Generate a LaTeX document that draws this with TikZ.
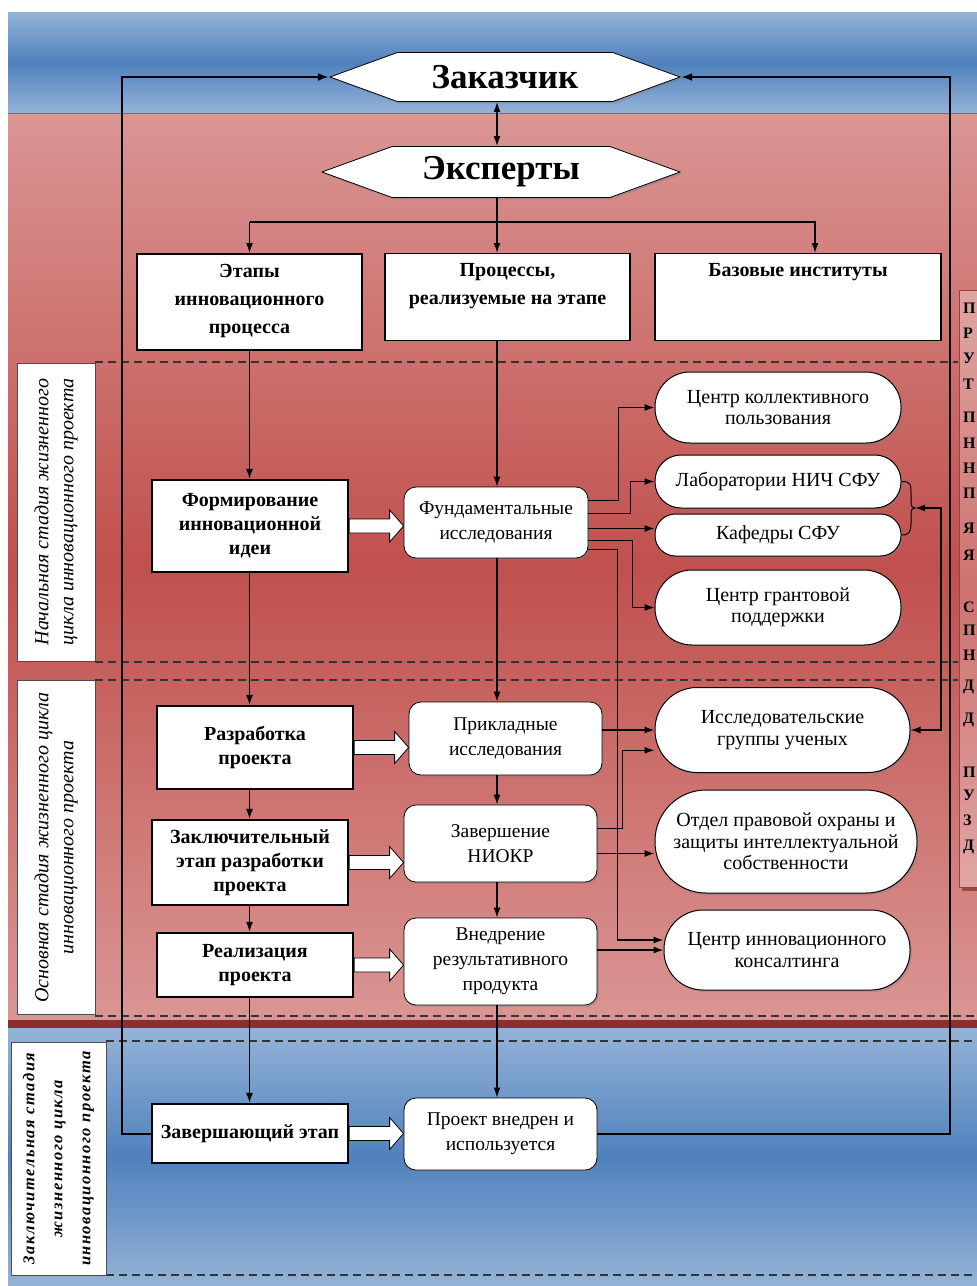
\documentclass[tikz,border=0pt]{standalone}
\usepackage{fontspec}
\setmainfont{Liberation Serif}
\usetikzlibrary{calc,positioning,arrows,arrows.meta,shapes,shadows}
\definecolor{bandblue}{HTML}{4F81BD}
\definecolor{paleblue}{HTML}{95B3D7}
\definecolor{bandred}{HTML}{C0504D}
\definecolor{palered}{HTML}{DA9694}
\definecolor{darkred}{HTML}{8C2F2C}

\begin{document}
\begin{tikzpicture}[x=1pt,y=-1pt]
\tikzstyle{hexbox}=[signal, signal to=east and west, signal pointer angle=40, draw, fill=white, line width=0.8pt, inner sep=0pt, font=\fontsize{35}{35}\selectfont\bfseries, drop shadow={shadow xshift=2pt,shadow yshift=-2pt,opacity=0.4}]
\tikzstyle{headbox}=[draw, fill=white, line width=1.2pt, anchor=north, inner xsep=0pt, inner ysep=10pt, font=\fontsize{20}{28}\selectfont\bfseries]
\tikzstyle{stagebox}=[draw, fill=white, line width=2.2pt, align=center, minimum width=196, inner sep=0pt, font=\fontsize{20}{24}\selectfont\bfseries]
\tikzstyle{procbox}=[draw, fill=white, line width=0.8pt, rounded corners=12pt, align=center, minimum width=193, inner sep=0pt, font=\fontsize{19.5}{25}\selectfont, drop shadow={shadow xshift=2pt,shadow yshift=-2pt,opacity=0.35}]
\tikzstyle{instbox}=[draw, fill=white, line width=1pt, align=center, inner sep=0pt, font=\fontsize{20}{21.5}\selectfont, drop shadow={shadow xshift=2pt,shadow yshift=-2pt,opacity=0.35}]
\tikzstyle{sidebox}=[draw=black!70, fill=white, line width=0.8pt, rotate=90, align=center, inner sep=0pt, font=\fontsize{20}{25}\selectfont\itshape]
\tikzstyle{flow}=[line width=1.4pt, -{Latex[length=10pt,width=7pt]}]
\tikzstyle{loopline}=[line width=2pt, -{Latex[length=11pt,width=8pt]}]
\tikzstyle{sepline}=[line width=1.2pt, dash pattern=on 8pt off 5pt, black!80]
\tikzstyle{hollow}=[draw, fill=white, line width=0.8pt]
\useasboundingbox (0,0) rectangle (977,1286);

% background bands
\shade[top color=paleblue, bottom color=paleblue, middle color=bandblue] (8,12) rectangle (977,113);
\shade[top color=palered, bottom color=palered, middle color=bandred] (8,113) rectangle (977,1020);
\draw[bandred, line width=1pt] (8,113) -- (977,113);
\fill[darkred] (8,1020) rectangle (977,1028);
\shade[top color=paleblue, bottom color=paleblue, middle color=bandblue] (8,1028) rectangle (977,1286);

% cut box on the right edge
\begin{scope}
\clip (950,280) rectangle (977,900);
\fill[darkred, opacity=0.7] (962,294) rectangle (990,891);
\shade[top color=palered!85!white, bottom color=palered!85!white, middle color=bandred!80!white] (959,290) rectangle (990,887);
\draw[bandred!80!black, line width=0.8pt] (959,290) rectangle (990,887);
\end{scope}
\foreach \y/\c in {308/П,333/Р,358/У,384/Т,417/П,443/Н,468/Н,493/П,528/Я,555/Я,607/С,630/П,655/Н,687/Д,720/Д,772/П,795/У,820/З,847/Д}{
  \node[anchor=west, inner sep=0pt, font=\fontsize{16}{16}\selectfont\bfseries] (frag\y) at (963,\y) {\c};}

% stage separators
\draw[sepline] (95,362) -- (958,362);
\draw[sepline] (95,662) -- (958,662);
\draw[sepline] (95,680) -- (958,680);
\draw[sepline] (95,1016) -- (977,1016);
\draw[sepline] (106,1041) -- (977,1041);
\draw[sepline] (106,1275) -- (977,1275);

% stage labels
\node[sidebox, minimum width=298, minimum height=78] (side1) at (56,512) {Начальная стадия жизненного\\цикла инновационного проекта};
\node[sidebox, minimum width=334, minimum height=78] (side2) at (56,847.5) {Основная стадия жизненного цикла\\инновационного проекта};
\node[sidebox, minimum width=233, minimum height=95, font=\fontsize{16.5}{28}\selectfont\bfseries\itshape\addfontfeature{LetterSpace=9}] (side3) at (58.5,1158.5) {Заключительная стадия\\жизненного цикла\\инновационного проекта};

% top
\node[hexbox, minimum width=350, minimum height=49] (zak) at (505,77) {Заказчик};
\node[hexbox, minimum width=358, minimum height=51] (eks) at (501,172) {Эксперты};
\node[headbox, line width=2.2pt] (etapy) at (249.5,253) {\parbox[t][76pt][t]{225pt}{\centering Этапы\\инновационного\\процесса}};
\node[headbox] (proc) at (507.5,253) {\parbox[t][67pt][t]{245pt}{\centering Процессы,\\реализуемые на этапе}};
\node[headbox] (baz) at (798,253) {\parbox[t][67pt][t]{286pt}{\centering Базовые институты}};

% stages
\node[stagebox, minimum height=92] (form) at (250,526) {Формирование\\инновационной\\идеи};
\node[stagebox, minimum height=83] (razr) at (255,747.5) {Разработка\\проекта};
\node[stagebox, minimum height=85] (zakl) at (250,862.5) {Заключительный\\этап разработки\\проекта};
\node[stagebox, minimum height=64] (real) at (255,965) {Реализация\\проекта};
\node[stagebox, minimum height=59] (zave) at (250,1133.5) {Завершающий этап};

% processes
\node[procbox, minimum width=184, minimum height=71] (fund) at (496,522.5) {Фундаментальные\\исследования};
\node[procbox, minimum height=73] (prikl) at (505.5,738.5) {Прикладные\\исследования};
\node[procbox, minimum height=77] (zavn) at (500.5,843.5) {Завершение\\НИОКР};
\node[procbox, minimum height=87] (vned) at (500.5,961.5) {Внедрение\\результативного\\продукта};
\node[procbox, minimum height=72] (proj) at (500.5,1134) {Проект внедрен и\\используется};

% institutes
\node[instbox, rounded corners=35pt, minimum width=246, minimum height=71] (kol) at (778,407.5) {Центр коллективного\\пользования};
\node[instbox, rounded corners=26pt, minimum width=246, minimum height=53] (lab) at (778,481.5) {Лаборатории НИЧ СФУ};
\node[instbox, rounded corners=20.5pt, minimum width=246, minimum height=42] (kaf) at (778,535) {Кафедры СФУ};
\node[instbox, rounded corners=37pt, minimum width=246, minimum height=75] (gran) at (778,607.5) {Центр грантовой\\поддержки};
\node[instbox, rounded corners=42pt, minimum width=255, minimum height=85] (issl) at (782.5,730) {Исследовательские\\группы ученых};
\node[instbox, rounded corners=51pt, minimum width=262, minimum height=103] (otd) at (786,841.5) {Отдел правовой охраны и\\защиты интеллектуальной\\собственности};
\node[instbox, rounded corners=39pt, minimum width=246, minimum height=80] (kons) at (787,950) {Центр инновационного\\консалтинга};

\coordinate (mid) at (497,222);
\coordinate (loopL) at (122,77);
\coordinate (loopR) at (950,77);
\coordinate (brace) at (915,508);

% customer and experts
\draw[line width=1.4pt, {Latex[length=10pt,width=7pt]}-{Latex[length=10pt,width=7pt]}] (mid |- zak.south) -- (mid |- eks.north);
\draw[line width=2.6pt] (mid) -- (mid -| etapy.north);
\draw[flow] (mid |- eks.south) -- (mid) -- (mid |- proc.north);
\draw[flow] (mid -| etapy.north) -- (etapy.north);
\draw[flow] (mid) -| ([xshift=17pt]baz.north);

% down the columns
\foreach \i/\j in {etapy/form,form/razr,razr/zakl,zakl/real,real/zave}{\draw[flow] (\i.south -| etapy.south) -- (\j.north -| etapy.south);}
\foreach \i/\j in {proc/fund,fund/prikl,prikl/zavn,zavn/vned,vned/proj}{\draw[flow] (\i.south -| mid) -- (\j.north -| mid);}

% hollow arrows
\foreach \i/\j in {form/fund,razr/prikl,zakl/zavn,real/vned,zave/proj}{
  \draw[hollow] let \p1=(\i.east), \p2=(\j.west) in (\x1,\y1+7pt) -- (\x2-14pt,\y1+7pt) -- (\x2-14pt,\y1+16pt) -- (\x2,\y1) -- (\x2-14pt,\y1-16pt) -- (\x2-14pt,\y1-7pt) -- (\x1,\y1-7pt) -- cycle;}

% to the institutes
\coordinate (f3) at ([yshift=-6pt]fund.east);
\coordinate (z2) at ([yshift=-10pt]zavn.east);
\draw[flow] ([yshift=22pt]fund.east) -- ++(30,0) |- (kol.west);
\draw[flow] ([yshift=9pt]fund.east) -- ++(42,0) |- (lab.west);
\draw[flow] (f3) -- (f3 -| kaf.west);
\draw[flow] ([yshift=-18pt]fund.east) -- ++(44,0) |- (gran.west);
\draw[flow] ([yshift=-27pt]fund.east) -- ++(29,0) |- ([yshift=10pt]kons.west);
\draw[flow] (prikl.east |- issl.west) -- (issl.west);
\draw[flow] ([yshift=15pt]zavn.east) -- ++(25,0) |- (issl.189);
\draw[flow] (z2) -- (z2 -| otd.west);
\draw[flow] (vned.east |- kons.west) -- (kons.west);

% brace and back link
\draw[line width=1pt] (lab.east) .. controls (911,481.5) and (911,484) .. (911,495) -- (911,503) .. controls (911,506) and (912,508) .. (brace) .. controls (912,508) and (911,510) .. (911,513) -- (911,523) .. controls (911,532) and (909,535) .. (kaf.east);
\draw[line width=1.4pt, {Latex[length=10pt,width=7pt]}-{Latex[length=10pt,width=7pt]}] (brace) -- ++(26,0) |- (issl.east);

% loops to the customer
\draw[loopline] (zave.west) -| (loopL) -- (zak.west);
\draw[loopline] (proj.east) -| (loopR) -- (zak.east);
\end{tikzpicture}
\end{document}
